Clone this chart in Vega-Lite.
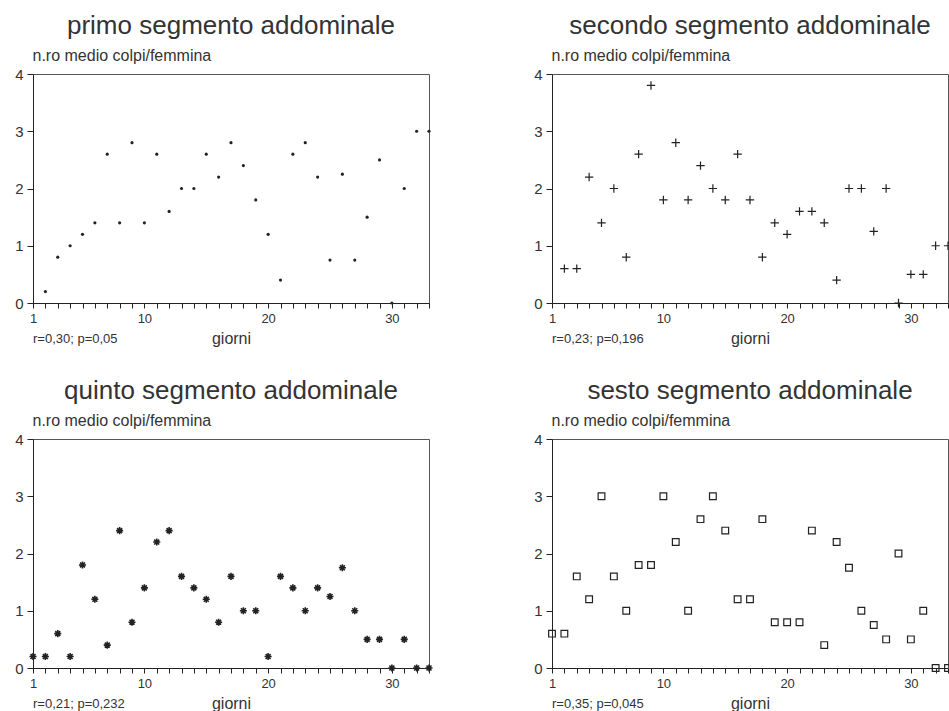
{
  "$schema": "https://vega.github.io/schema/vega-lite/v6.json",
  "background": "white",
  "padding": {"left": 14, "top": 12, "right": 0, "bottom": 0},
  "columns": 2,
  "bounds": "flush",
  "spacing": {"row": 136, "column": 123},
  "config": {
    "font": "Liberation Sans",
    "view": {"stroke": "#555", "strokeWidth": 1},
    "title": {"font": "Liberation Sans", "fontSize": 26, "fontWeight": "normal", "color": "#333", "anchor": "middle", "offset": 8},
    "axis": {"domainColor": "#222", "tickColor": "#222", "labelColor": "#333", "titleColor": "#333", "labelFont": "Liberation Sans", "titleFont": "Liberation Sans", "grid": false, "titleFontWeight": "normal"}
  },
  "datasets": {
    "colpi": [
      {"segmento": "primo", "giorno": 2, "colpi": 0.2},
      {"segmento": "primo", "giorno": 3, "colpi": 0.8},
      {"segmento": "primo", "giorno": 4, "colpi": 1.0},
      {"segmento": "primo", "giorno": 5, "colpi": 1.2},
      {"segmento": "primo", "giorno": 6, "colpi": 1.4},
      {"segmento": "primo", "giorno": 7, "colpi": 2.6},
      {"segmento": "primo", "giorno": 8, "colpi": 1.4},
      {"segmento": "primo", "giorno": 9, "colpi": 2.8},
      {"segmento": "primo", "giorno": 10, "colpi": 1.4},
      {"segmento": "primo", "giorno": 11, "colpi": 2.6},
      {"segmento": "primo", "giorno": 12, "colpi": 1.6},
      {"segmento": "primo", "giorno": 13, "colpi": 2.0},
      {"segmento": "primo", "giorno": 14, "colpi": 2.0},
      {"segmento": "primo", "giorno": 15, "colpi": 2.6},
      {"segmento": "primo", "giorno": 16, "colpi": 2.2},
      {"segmento": "primo", "giorno": 17, "colpi": 2.8},
      {"segmento": "primo", "giorno": 18, "colpi": 2.4},
      {"segmento": "primo", "giorno": 19, "colpi": 1.8},
      {"segmento": "primo", "giorno": 20, "colpi": 1.2},
      {"segmento": "primo", "giorno": 21, "colpi": 0.4},
      {"segmento": "primo", "giorno": 22, "colpi": 2.6},
      {"segmento": "primo", "giorno": 23, "colpi": 2.8},
      {"segmento": "primo", "giorno": 24, "colpi": 2.2},
      {"segmento": "primo", "giorno": 25, "colpi": 0.75},
      {"segmento": "primo", "giorno": 26, "colpi": 2.25},
      {"segmento": "primo", "giorno": 27, "colpi": 0.75},
      {"segmento": "primo", "giorno": 28, "colpi": 1.5},
      {"segmento": "primo", "giorno": 29, "colpi": 2.5},
      {"segmento": "primo", "giorno": 30, "colpi": 0},
      {"segmento": "primo", "giorno": 31, "colpi": 2.0},
      {"segmento": "primo", "giorno": 32, "colpi": 3.0},
      {"segmento": "primo", "giorno": 33, "colpi": 3.0},
      {"segmento": "secondo", "giorno": 2, "colpi": 0.6},
      {"segmento": "secondo", "giorno": 3, "colpi": 0.6},
      {"segmento": "secondo", "giorno": 4, "colpi": 2.2},
      {"segmento": "secondo", "giorno": 5, "colpi": 1.4},
      {"segmento": "secondo", "giorno": 6, "colpi": 2.0},
      {"segmento": "secondo", "giorno": 7, "colpi": 0.8},
      {"segmento": "secondo", "giorno": 8, "colpi": 2.6},
      {"segmento": "secondo", "giorno": 9, "colpi": 3.8},
      {"segmento": "secondo", "giorno": 10, "colpi": 1.8},
      {"segmento": "secondo", "giorno": 11, "colpi": 2.8},
      {"segmento": "secondo", "giorno": 12, "colpi": 1.8},
      {"segmento": "secondo", "giorno": 13, "colpi": 2.4},
      {"segmento": "secondo", "giorno": 14, "colpi": 2.0},
      {"segmento": "secondo", "giorno": 15, "colpi": 1.8},
      {"segmento": "secondo", "giorno": 16, "colpi": 2.6},
      {"segmento": "secondo", "giorno": 17, "colpi": 1.8},
      {"segmento": "secondo", "giorno": 18, "colpi": 0.8},
      {"segmento": "secondo", "giorno": 19, "colpi": 1.4},
      {"segmento": "secondo", "giorno": 20, "colpi": 1.2},
      {"segmento": "secondo", "giorno": 21, "colpi": 1.6},
      {"segmento": "secondo", "giorno": 22, "colpi": 1.6},
      {"segmento": "secondo", "giorno": 23, "colpi": 1.4},
      {"segmento": "secondo", "giorno": 24, "colpi": 0.4},
      {"segmento": "secondo", "giorno": 25, "colpi": 2.0},
      {"segmento": "secondo", "giorno": 26, "colpi": 2.0},
      {"segmento": "secondo", "giorno": 27, "colpi": 1.25},
      {"segmento": "secondo", "giorno": 28, "colpi": 2.0},
      {"segmento": "secondo", "giorno": 29, "colpi": 0},
      {"segmento": "secondo", "giorno": 30, "colpi": 0.5},
      {"segmento": "secondo", "giorno": 31, "colpi": 0.5},
      {"segmento": "secondo", "giorno": 32, "colpi": 1.0},
      {"segmento": "secondo", "giorno": 33, "colpi": 1.0},
      {"segmento": "quinto", "giorno": 1, "colpi": 0.2},
      {"segmento": "quinto", "giorno": 2, "colpi": 0.2},
      {"segmento": "quinto", "giorno": 3, "colpi": 0.6},
      {"segmento": "quinto", "giorno": 4, "colpi": 0.2},
      {"segmento": "quinto", "giorno": 5, "colpi": 1.8},
      {"segmento": "quinto", "giorno": 6, "colpi": 1.2},
      {"segmento": "quinto", "giorno": 7, "colpi": 0.4},
      {"segmento": "quinto", "giorno": 8, "colpi": 2.4},
      {"segmento": "quinto", "giorno": 9, "colpi": 0.8},
      {"segmento": "quinto", "giorno": 10, "colpi": 1.4},
      {"segmento": "quinto", "giorno": 11, "colpi": 2.2},
      {"segmento": "quinto", "giorno": 12, "colpi": 2.4},
      {"segmento": "quinto", "giorno": 13, "colpi": 1.6},
      {"segmento": "quinto", "giorno": 14, "colpi": 1.4},
      {"segmento": "quinto", "giorno": 15, "colpi": 1.2},
      {"segmento": "quinto", "giorno": 16, "colpi": 0.8},
      {"segmento": "quinto", "giorno": 17, "colpi": 1.6},
      {"segmento": "quinto", "giorno": 18, "colpi": 1.0},
      {"segmento": "quinto", "giorno": 19, "colpi": 1.0},
      {"segmento": "quinto", "giorno": 20, "colpi": 0.2},
      {"segmento": "quinto", "giorno": 21, "colpi": 1.6},
      {"segmento": "quinto", "giorno": 22, "colpi": 1.4},
      {"segmento": "quinto", "giorno": 23, "colpi": 1.0},
      {"segmento": "quinto", "giorno": 24, "colpi": 1.4},
      {"segmento": "quinto", "giorno": 25, "colpi": 1.25},
      {"segmento": "quinto", "giorno": 26, "colpi": 1.75},
      {"segmento": "quinto", "giorno": 27, "colpi": 1.0},
      {"segmento": "quinto", "giorno": 28, "colpi": 0.5},
      {"segmento": "quinto", "giorno": 29, "colpi": 0.5},
      {"segmento": "quinto", "giorno": 30, "colpi": 0},
      {"segmento": "quinto", "giorno": 31, "colpi": 0.5},
      {"segmento": "quinto", "giorno": 32, "colpi": 0},
      {"segmento": "quinto", "giorno": 33, "colpi": 0},
      {"segmento": "sesto", "giorno": 1, "colpi": 0.6},
      {"segmento": "sesto", "giorno": 2, "colpi": 0.6},
      {"segmento": "sesto", "giorno": 3, "colpi": 1.6},
      {"segmento": "sesto", "giorno": 4, "colpi": 1.2},
      {"segmento": "sesto", "giorno": 5, "colpi": 3.0},
      {"segmento": "sesto", "giorno": 6, "colpi": 1.6},
      {"segmento": "sesto", "giorno": 7, "colpi": 1.0},
      {"segmento": "sesto", "giorno": 8, "colpi": 1.8},
      {"segmento": "sesto", "giorno": 9, "colpi": 1.8},
      {"segmento": "sesto", "giorno": 10, "colpi": 3.0},
      {"segmento": "sesto", "giorno": 11, "colpi": 2.2},
      {"segmento": "sesto", "giorno": 12, "colpi": 1.0},
      {"segmento": "sesto", "giorno": 13, "colpi": 2.6},
      {"segmento": "sesto", "giorno": 14, "colpi": 3.0},
      {"segmento": "sesto", "giorno": 15, "colpi": 2.4},
      {"segmento": "sesto", "giorno": 16, "colpi": 1.2},
      {"segmento": "sesto", "giorno": 17, "colpi": 1.2},
      {"segmento": "sesto", "giorno": 18, "colpi": 2.6},
      {"segmento": "sesto", "giorno": 19, "colpi": 0.8},
      {"segmento": "sesto", "giorno": 20, "colpi": 0.8},
      {"segmento": "sesto", "giorno": 21, "colpi": 0.8},
      {"segmento": "sesto", "giorno": 22, "colpi": 2.4},
      {"segmento": "sesto", "giorno": 23, "colpi": 0.4},
      {"segmento": "sesto", "giorno": 24, "colpi": 2.2},
      {"segmento": "sesto", "giorno": 25, "colpi": 1.75},
      {"segmento": "sesto", "giorno": 26, "colpi": 1.0},
      {"segmento": "sesto", "giorno": 27, "colpi": 0.75},
      {"segmento": "sesto", "giorno": 28, "colpi": 0.5},
      {"segmento": "sesto", "giorno": 29, "colpi": 2.0},
      {"segmento": "sesto", "giorno": 30, "colpi": 0.5},
      {"segmento": "sesto", "giorno": 31, "colpi": 1.0},
      {"segmento": "sesto", "giorno": 32, "colpi": 0},
      {"segmento": "sesto", "giorno": 33, "colpi": 0}
    ],
    "statistiche": [
      {"segmento": "primo", "testo": "r=0,30; p=0,05"},
      {"segmento": "secondo", "testo": "r=0,23; p=0,196"},
      {"segmento": "quinto", "testo": "r=0,21; p=0,232"},
      {"segmento": "sesto", "testo": "r=0,35; p=0,045"}
    ]
  },
  "concat": [
    {
      "title": "primo segmento addominale",
      "width": 396, "height": 229,
      "layer": [
        {
          "data": {"name": "colpi"},
          "transform": [{"filter": "datum.segmento == 'primo'"}],
          "mark": {"type": "point", "shape": "circle", "filled": true, "size": 10, "color": "#222", "opacity": 1, "clip": false},
          "encoding": {
            "x": {"field": "giorno", "type": "quantitative", "scale": {"domain": [1, 33], "nice": false, "zero": false},
              "axis": {"values": [1,2,3,4,5,6,7,8,9,10,11,12,13,14,15,16,17,18,19,20,21,22,23,24,25,26,27,28,29,30,31,32,33], "labelExpr": "(datum.value == 1 || datum.value == 10 || datum.value == 20 || datum.value == 30) ? datum.label : ''", "labelOverlap": false, "labelBound": false, "labelFlush": false, "tickSize": 5, "labelPadding": 4, "labelFontSize": 13, "title": "giorni", "titleFontSize": 16, "titleBaseline": "alphabetic", "titleY": 40}},
            "y": {"field": "colpi", "type": "quantitative", "scale": {"domain": [0, 4], "nice": false},
              "axis": {"values": [0,1,2,3,4], "format": "d", "tickSize": 6, "labelPadding": 4, "labelFontSize": 15, "title": "n.ro medio colpi/femmina", "titleFontSize": 16, "titleAngle": 0, "titleAlign": "left", "titleBaseline": "alphabetic", "titleX": -1, "titleY": -14}}
          }
        },
        {
          "data": {"name": "statistiche"},
          "transform": [{"filter": "datum.segmento == 'primo'"}],
          "mark": {"type": "text", "align": "left", "baseline": "alphabetic", "fontSize": 13, "color": "#333", "font": "Liberation Sans"},
          "encoding": {
            "x": {"datum": 1, "type": "quantitative",
              "axis": {"values": [1,2,3,4,5,6,7,8,9,10,11,12,13,14,15,16,17,18,19,20,21,22,23,24,25,26,27,28,29,30,31,32,33], "labelExpr": "(datum.value == 1 || datum.value == 10 || datum.value == 20 || datum.value == 30) ? datum.label : ''", "labelOverlap": false, "labelBound": false, "labelFlush": false, "tickSize": 5, "labelPadding": 4, "labelFontSize": 13, "title": "giorni", "titleFontSize": 16, "titleBaseline": "alphabetic", "titleY": 40}},
            "y": {"datum": -0.7, "type": "quantitative",
              "axis": {"values": [0,1,2,3,4], "format": "d", "tickSize": 6, "labelPadding": 4, "labelFontSize": 15, "title": "n.ro medio colpi/femmina", "titleFontSize": 16, "titleAngle": 0, "titleAlign": "left", "titleBaseline": "alphabetic", "titleX": -1, "titleY": -14}},
            "text": {"field": "testo"}}
        }
      ]
    },
    {
      "title": "secondo segmento addominale",
      "width": 396, "height": 229,
      "layer": [
        {
          "data": {"name": "colpi"},
          "transform": [{"filter": "datum.segmento == 'secondo'"}],
          "mark": {"type": "point", "shape": "M-1,0L1,0M0,-1L0,1", "filled": false, "size": 70, "strokeWidth": 1.2, "color": "#222", "opacity": 1, "clip": false},
          "encoding": {
            "x": {"field": "giorno", "type": "quantitative", "scale": {"domain": [1, 33], "nice": false, "zero": false},
              "axis": {"values": [1,2,3,4,5,6,7,8,9,10,11,12,13,14,15,16,17,18,19,20,21,22,23,24,25,26,27,28,29,30,31,32,33], "labelExpr": "(datum.value == 1 || datum.value == 10 || datum.value == 20 || datum.value == 30) ? datum.label : ''", "labelOverlap": false, "labelBound": false, "labelFlush": false, "tickSize": 5, "labelPadding": 4, "labelFontSize": 13, "title": "giorni", "titleFontSize": 16, "titleBaseline": "alphabetic", "titleY": 40}},
            "y": {"field": "colpi", "type": "quantitative", "scale": {"domain": [0, 4], "nice": false},
              "axis": {"values": [0,1,2,3,4], "format": "d", "tickSize": 6, "labelPadding": 4, "labelFontSize": 15, "title": "n.ro medio colpi/femmina", "titleFontSize": 16, "titleAngle": 0, "titleAlign": "left", "titleBaseline": "alphabetic", "titleX": -1, "titleY": -14}}
          }
        },
        {
          "data": {"name": "statistiche"},
          "transform": [{"filter": "datum.segmento == 'secondo'"}],
          "mark": {"type": "text", "align": "left", "baseline": "alphabetic", "fontSize": 13, "color": "#333", "font": "Liberation Sans"},
          "encoding": {
            "x": {"datum": 1, "type": "quantitative",
              "axis": {"values": [1,2,3,4,5,6,7,8,9,10,11,12,13,14,15,16,17,18,19,20,21,22,23,24,25,26,27,28,29,30,31,32,33], "labelExpr": "(datum.value == 1 || datum.value == 10 || datum.value == 20 || datum.value == 30) ? datum.label : ''", "labelOverlap": false, "labelBound": false, "labelFlush": false, "tickSize": 5, "labelPadding": 4, "labelFontSize": 13, "title": "giorni", "titleFontSize": 16, "titleBaseline": "alphabetic", "titleY": 40}},
            "y": {"datum": -0.7, "type": "quantitative",
              "axis": {"values": [0,1,2,3,4], "format": "d", "tickSize": 6, "labelPadding": 4, "labelFontSize": 15, "title": "n.ro medio colpi/femmina", "titleFontSize": 16, "titleAngle": 0, "titleAlign": "left", "titleBaseline": "alphabetic", "titleX": -1, "titleY": -14}},
            "text": {"field": "testo"}}
        }
      ]
    },
    {
      "title": "quinto segmento addominale",
      "width": 396, "height": 229,
      "layer": [
        {
          "data": {"name": "colpi"},
          "transform": [{"filter": "datum.segmento == 'quinto'"}],
          "mark": {"type": "point", "shape": "M-1,0L1,0M0,-1L0,1M-0.7,-0.7L0.7,0.7M-0.7,0.7L0.7,-0.7", "filled": false, "size": 50, "strokeWidth": 1.6, "color": "#222", "opacity": 1, "clip": false},
          "encoding": {
            "x": {"field": "giorno", "type": "quantitative", "scale": {"domain": [1, 33], "nice": false, "zero": false},
              "axis": {"values": [1,2,3,4,5,6,7,8,9,10,11,12,13,14,15,16,17,18,19,20,21,22,23,24,25,26,27,28,29,30,31,32,33], "labelExpr": "(datum.value == 1 || datum.value == 10 || datum.value == 20 || datum.value == 30) ? datum.label : ''", "labelOverlap": false, "labelBound": false, "labelFlush": false, "tickSize": 5, "labelPadding": 4, "labelFontSize": 13, "title": "giorni", "titleFontSize": 16, "titleBaseline": "alphabetic", "titleY": 40}},
            "y": {"field": "colpi", "type": "quantitative", "scale": {"domain": [0, 4], "nice": false},
              "axis": {"values": [0,1,2,3,4], "format": "d", "tickSize": 6, "labelPadding": 4, "labelFontSize": 15, "title": "n.ro medio colpi/femmina", "titleFontSize": 16, "titleAngle": 0, "titleAlign": "left", "titleBaseline": "alphabetic", "titleX": -1, "titleY": -14}}
          }
        },
        {
          "data": {"name": "statistiche"},
          "transform": [{"filter": "datum.segmento == 'quinto'"}],
          "mark": {"type": "text", "align": "left", "baseline": "alphabetic", "fontSize": 13, "color": "#333", "font": "Liberation Sans"},
          "encoding": {
            "x": {"datum": 1, "type": "quantitative",
              "axis": {"values": [1,2,3,4,5,6,7,8,9,10,11,12,13,14,15,16,17,18,19,20,21,22,23,24,25,26,27,28,29,30,31,32,33], "labelExpr": "(datum.value == 1 || datum.value == 10 || datum.value == 20 || datum.value == 30) ? datum.label : ''", "labelOverlap": false, "labelBound": false, "labelFlush": false, "tickSize": 5, "labelPadding": 4, "labelFontSize": 13, "title": "giorni", "titleFontSize": 16, "titleBaseline": "alphabetic", "titleY": 40}},
            "y": {"datum": -0.7, "type": "quantitative",
              "axis": {"values": [0,1,2,3,4], "format": "d", "tickSize": 6, "labelPadding": 4, "labelFontSize": 15, "title": "n.ro medio colpi/femmina", "titleFontSize": 16, "titleAngle": 0, "titleAlign": "left", "titleBaseline": "alphabetic", "titleX": -1, "titleY": -14}},
            "text": {"field": "testo"}}
        }
      ]
    },
    {
      "title": "sesto segmento addominale",
      "width": 396, "height": 229,
      "layer": [
        {
          "data": {"name": "colpi"},
          "transform": [{"filter": "datum.segmento == 'sesto'"}],
          "mark": {"type": "point", "shape": "square", "filled": false, "size": 45, "strokeWidth": 1.2, "color": "#222", "opacity": 1, "clip": false},
          "encoding": {
            "x": {"field": "giorno", "type": "quantitative", "scale": {"domain": [1, 33], "nice": false, "zero": false},
              "axis": {"values": [1,2,3,4,5,6,7,8,9,10,11,12,13,14,15,16,17,18,19,20,21,22,23,24,25,26,27,28,29,30,31,32,33], "labelExpr": "(datum.value == 1 || datum.value == 10 || datum.value == 20 || datum.value == 30) ? datum.label : ''", "labelOverlap": false, "labelBound": false, "labelFlush": false, "tickSize": 5, "labelPadding": 4, "labelFontSize": 13, "title": "giorni", "titleFontSize": 16, "titleBaseline": "alphabetic", "titleY": 40}},
            "y": {"field": "colpi", "type": "quantitative", "scale": {"domain": [0, 4], "nice": false},
              "axis": {"values": [0,1,2,3,4], "format": "d", "tickSize": 6, "labelPadding": 4, "labelFontSize": 15, "title": "n.ro medio colpi/femmina", "titleFontSize": 16, "titleAngle": 0, "titleAlign": "left", "titleBaseline": "alphabetic", "titleX": -1, "titleY": -14}}
          }
        },
        {
          "data": {"name": "statistiche"},
          "transform": [{"filter": "datum.segmento == 'sesto'"}],
          "mark": {"type": "text", "align": "left", "baseline": "alphabetic", "fontSize": 13, "color": "#333", "font": "Liberation Sans"},
          "encoding": {
            "x": {"datum": 1, "type": "quantitative",
              "axis": {"values": [1,2,3,4,5,6,7,8,9,10,11,12,13,14,15,16,17,18,19,20,21,22,23,24,25,26,27,28,29,30,31,32,33], "labelExpr": "(datum.value == 1 || datum.value == 10 || datum.value == 20 || datum.value == 30) ? datum.label : ''", "labelOverlap": false, "labelBound": false, "labelFlush": false, "tickSize": 5, "labelPadding": 4, "labelFontSize": 13, "title": "giorni", "titleFontSize": 16, "titleBaseline": "alphabetic", "titleY": 40}},
            "y": {"datum": -0.7, "type": "quantitative",
              "axis": {"values": [0,1,2,3,4], "format": "d", "tickSize": 6, "labelPadding": 4, "labelFontSize": 15, "title": "n.ro medio colpi/femmina", "titleFontSize": 16, "titleAngle": 0, "titleAlign": "left", "titleBaseline": "alphabetic", "titleX": -1, "titleY": -14}},
            "text": {"field": "testo"}}
        }
      ]
    }
  ]
}
